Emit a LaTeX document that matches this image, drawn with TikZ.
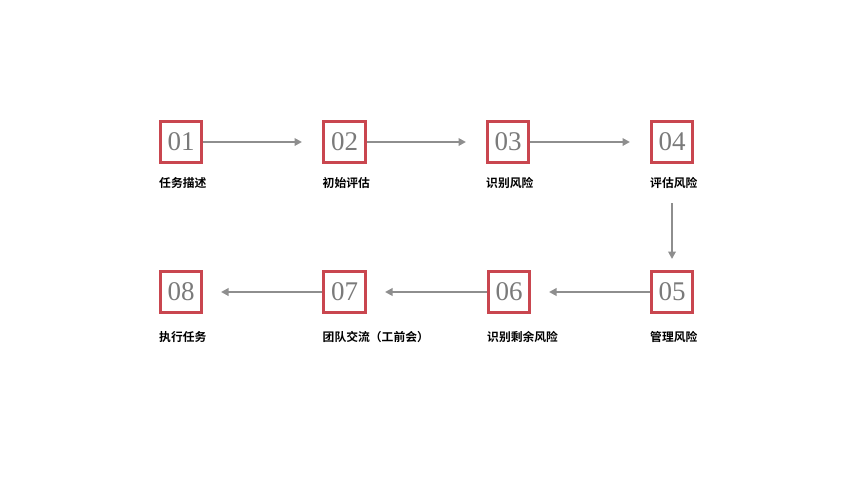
\documentclass[tikz,border=0pt]{standalone}
\usepackage{fontspec}
\setmainfont{Liberation Serif}
\newfontfamily\cjk{Noto Sans CJK SC}[BoldFont={Noto Sans CJK SC Bold}]
\usetikzlibrary{arrows.meta}
\definecolor{boxred}{HTML}{C9464F}
\definecolor{arrgray}{HTML}{8E8E8E}
\definecolor{numgray}{HTML}{7A7A7A}
\begin{document}
\begin{tikzpicture}[x=1pt,y=-1pt,
  numbox/.style={draw=boxred,line width=2.6pt,minimum size=41.5pt,inner sep=0pt,
    font=\fontsize{27}{27}\selectfont,text=numgray},
  lbl/.style={anchor=west,inner sep=0pt,font=\cjk\bfseries\fontsize{11.8}{12}\selectfont,text=black},
  conn/.style={draw=arrgray,line width=2.6pt,-{Triangle[length=7.5pt,width=7.5pt]}}]
\useasboundingbox (0,0) rectangle (860,488);
\node[numbox] (b1) at (181,142) {01};
\node[numbox] (b2) at (344.5,142) {02};
\node[numbox] (b3) at (508,142) {03};
\node[numbox] (b4) at (672,142) {04};
\node[numbox] (b5) at (672,292) {05};
\node[numbox] (b6) at (509,292) {06};
\node[numbox] (b7) at (344.5,292) {07};
\node[numbox] (b8) at (181,292) {08};
\node[lbl] (l1) at (159,183) {任务描述};
\node[lbl] (l2) at (322.5,183) {初始评估};
\node[lbl] (l3) at (486,183) {识别风险};
\node[lbl] (l4) at (650,183) {评估风险};
\node[lbl] (l5) at (650,337) {管理风险};
\node[lbl] (l6) at (487,337) {识别剩余风险};
\node[lbl] (l7) at (322.5,337) {团队交流（工前会）};
\node[lbl] (l8) at (159,337) {执行任务};
\coordinate (e1) at (302,142);
\coordinate (e2) at (466,142);
\coordinate (e3) at (630,142);
\coordinate (s4) at (672,203);
\coordinate (e4) at (672,259);
\coordinate (e5) at (549,292);
\coordinate (e6) at (385,292);
\coordinate (e7) at (221,292);
\draw[conn] (b1.east) -- (e1);
\draw[conn] (b2.east) -- (e2);
\draw[conn] (b3.east) -- (e3);
\draw[conn] (s4) -- (e4);
\draw[conn] (b5.west) -- (e5);
\draw[conn] (b6.west) -- (e6);
\draw[conn] (b7.west) -- (e7);
\end{tikzpicture}
\end{document}
